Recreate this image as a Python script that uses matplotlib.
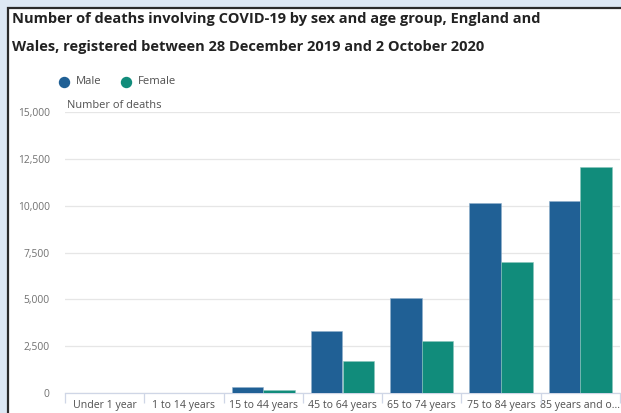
import numpy as np
import matplotlib.pyplot as plt
from matplotlib.patches import Rectangle
from matplotlib.lines import Line2D

# values
age_groups = ['Under 1 year', '1 to 14 years', '15 to 44 years', '45 to 64 years',
              '65 to 74 years', '75 to 84 years', '85 years and o...']
male = [3, 6, 310, 3310, 5070, 10160, 10270]
female = [2, 4, 180, 1710, 2760, 6970, 12070]
y_ticks = [0, 2500, 5000, 7500, 10000, 12500, 15000]

male_col = '#206095'
female_col = '#118c7b'
grey = '#707070'

plt.rcParams['font.family'] = ['Open Sans', 'DejaVu Sans']

W, H = 621, 413
fig = plt.figure(figsize=(W / 100, H / 100), dpi=100)
fig.patch.set_facecolor('#dde8f4')

# white panel with dark border on the left and top
fig.add_artist(Rectangle((8 / W, -0.1), 1.2, (H - 8) / H + 0.1, transform=fig.transFigure,
                         facecolor='white', edgecolor='#2b2b2b', lw=1.6, zorder=0))

ax = fig.add_axes([65 / W, 1 - 393 / H, (620 - 65) / W, (393 - 112) / H])
ax.set_facecolor('none')

x = np.arange(len(age_groups))
w = 0.4
ax.bar(x - w / 2, male, w, color=male_col, edgecolor='#8fb0cc', linewidth=0.4, zorder=3)
ax.bar(x + w / 2, female, w, color=female_col, edgecolor='#8cc6bd', linewidth=0.4, zorder=3)

ax.set_xlim(-0.5, len(age_groups) - 0.5)
ax.set_ylim(0, 15000)
ax.set_yticks(y_ticks)
ax.set_yticklabels(['{:,}'.format(v) for v in y_ticks])
ax.grid(axis='y', color='#e6e6e6', lw=0.9, zorder=0)

ax.set_xticks(x)
ax.set_xticklabels(age_groups)
ax.set_xticks(np.arange(-0.5, len(age_groups)), minor=True)
ax.tick_params(axis='x', which='major', length=0, pad=5, labelsize=7.6, labelcolor='#505050')
ax.tick_params(axis='x', which='minor', length=7, width=0.9, color='#cfd6e6')
ax.tick_params(axis='y', length=0, pad=11, labelsize=7.4, labelcolor=grey)
for s in ['top', 'right', 'left']:
    ax.spines[s].set_visible(False)
ax.spines['bottom'].set_color('#cfd6e6')
ax.spines['bottom'].set_linewidth(0.9)

fig.text(67 / W, 1 - 105 / H, 'Number of deaths', fontsize=7.9,
         color='#505050', va='center', ha='left')

# title
fig.text(12 / W, 1 - 19 / H, 'Number of deaths involving COVID-19 by sex and age group, England and',
         fontsize=10.55, fontweight='bold', color='#222222', va='center', ha='left')
fig.text(12 / W, 1 - 47.5 / H, 'Wales, registered between 28 December 2019 and 2 October 2020',
         fontsize=10.55, fontweight='bold', color='#222222', va='center', ha='left')

# legend
for px, lab, col in [(64, 'Male', male_col), (126, 'Female', female_col)]:
    fig.add_artist(Line2D([px / W], [1 - 82 / H], marker='o', markersize=7.2, color=col,
                          transform=fig.transFigure, linestyle='none'))
    fig.text((px + 11.5) / W, 1 - 82 / H, lab, fontsize=8.1, color='#505050', va='center', ha='left')

fig.savefig('out.png', dpi=100, facecolor=fig.get_facecolor())
